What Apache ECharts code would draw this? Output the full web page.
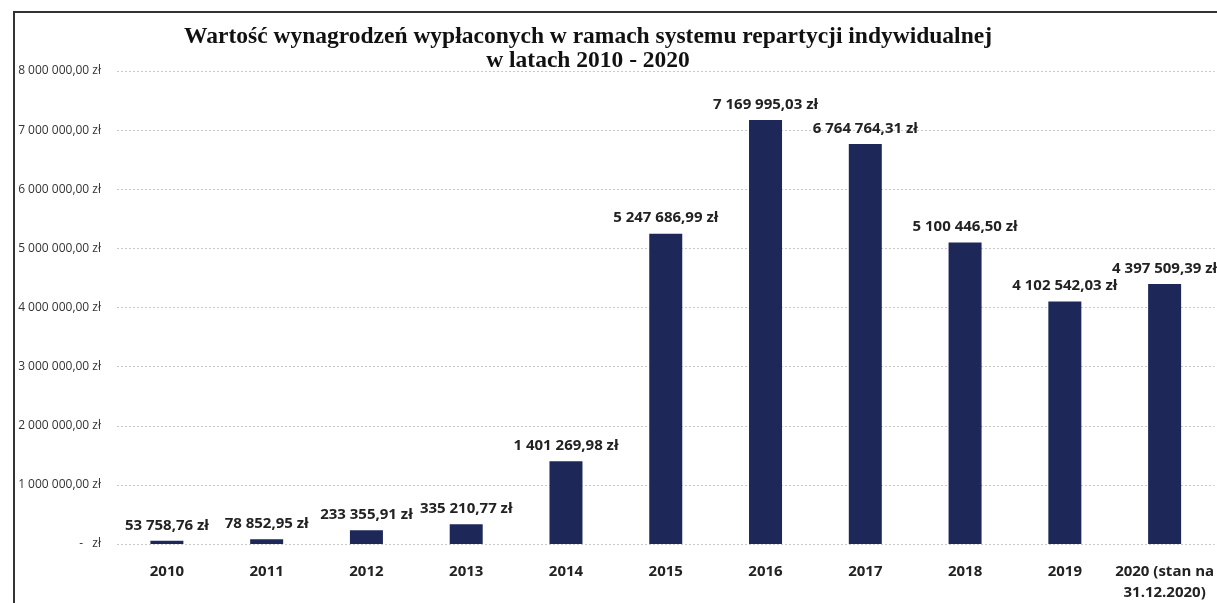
<!DOCTYPE html>
<html>
<head>
<meta charset="utf-8">
<script src="https://cdn.jsdelivr.net/npm/echarts@6/dist/echarts.min.js"></script>
<style>
  html, body { margin: 0; padding: 0; background: #fff; }
  #chart { width: 1217px; height: 603px; }
</style>
</head>
<body>
<div id="chart"></div>
<script>
const years = ["2010", "2011", "2012", "2013", "2014", "2015", "2016", "2017", "2018", "2019", "2020 (stan na\n31.12.2020)"];
const amounts = [53758.76, 78852.95, 233355.91, 335210.77, 1401269.98, 5247686.99, 7169995.03, 6764764.31, 5100446.5, 4102542.03, 4397509.39];
const titleLines = ["Wartość wynagrodzeń wypłaconych w ramach systemu repartycji indywidualnej", "w latach 2010 - 2020"];

// polish money format: 1 234 567,89 zł
function zl(v, dec) {
	const parts = v.toFixed(dec).split(".");
	const whole = parts[0].replace(/\B(?=(\d{3})+(?!\d))/g, " ");
	return whole + "," + parts[1] + " zł";
}

const option = {
	animation: false,
	title: {
		text: titleLines.join("\n"),
		left: 583,
		textAlign: "center",
		top: 20,
		textStyle: {
			fontFamily: "Liberation Serif",
			fontWeight: "bold",
			fontSize: 23.5,
			lineHeight: 24,
			color: "#111",
		},
	},
	graphic: [
		{
			type: "polyline",
			shape: { points: [[14, 603], [14, 12], [1217, 12]] },
			style: { stroke: "#333", lineWidth: 2, fill: null },
		},
	],
	grid: {
		left: 117,
		right: 0,
		top: 71,
		bottom: 58,
	},
	xAxis: {
		type: "category",
		data: years,
		axisLine: { show: false },
		axisTick: { show: false },
		axisLabel: {
			interval: 0,
			margin: 17,
			color: "#222",
			fontFamily: "Open Sans",
			fontWeight: "bold",
			fontSize: 15,
			lineHeight: 21,
		},
	},
	yAxis: {
		type: "value",
		min: 0,
		max: 8000000,
		interval: 1000000,
		axisLine: { show: false },
		axisTick: { show: false },
		axisLabel: {
			margin: 16,
			color: "#333",
			fontFamily: "Open Sans",
			fontSize: 12,
			formatter: (v) => (v === 0 ? "-   zł" : zl(v, 2)),
		},
		splitLine: {
			lineStyle: { color: "#c8c8c8", type: [2, 2], width: 1 },
		},
	},
	series: [
		{
			type: "bar",
			data: amounts,
			barWidth: 33,
			itemStyle: { color: "#1e2858" },
			label: {
				show: true,
				position: "top",
				distance: 8,
				color: "#222",
				fontFamily: "Open Sans",
				fontWeight: "bold",
				fontSize: 15,
				formatter: (p) => zl(p.value, 2),
			},
		},
	],
};

const chart = echarts.init(document.getElementById("chart"));
chart.setOption(option);
</script>
</body>
</html>
